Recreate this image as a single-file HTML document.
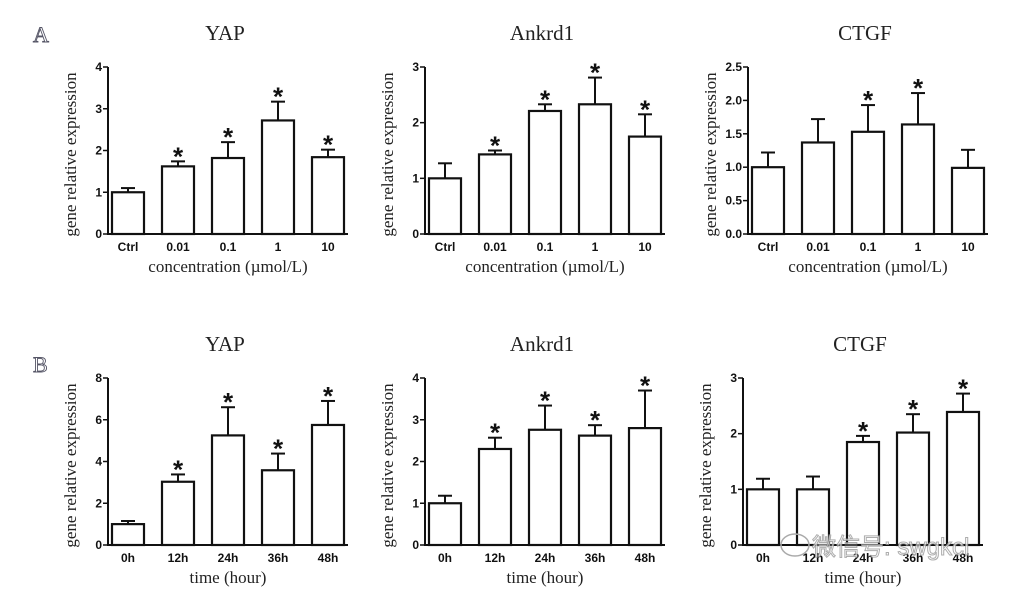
<!DOCTYPE html>
<html><head><meta charset="utf-8"><style>
body{margin:0;background:#fff;width:1020px;height:594px;overflow:hidden}
svg{display:block}
</style></head><body>
<svg id="fig" width="1020" height="594" xmlns="http://www.w3.org/2000/svg">
<text x="33" y="42" font-family="Liberation Serif, serif" font-size="22" fill="#fff" stroke="#556" stroke-width="0.9">A</text>
<text x="33" y="372" font-family="Liberation Serif, serif" font-size="22" fill="#fff" stroke="#556" stroke-width="0.9">B</text>
</svg>
<script>
const catsA = ["Ctrl","0.01","0.1","1","10"];
const catsB = ["0h","12h","24h","36h","48h"];
const yapA = [1.0,1.62,1.82,2.72,1.84];
const yapAErr = [0.1,0.12,0.38,0.45,0.18];
const yapASig = [0,1,1,1,1];
const ankA = [1.0,1.43,2.21,2.33,1.75];
const ankAErr = [0.27,0.07,0.12,0.48,0.4];
const ankASig = [0,1,1,1,1];
const ctgfA = [1.0,1.37,1.53,1.64,0.99];
const ctgfAErr = [0.22,0.35,0.4,0.47,0.27];
const ctgfASig = [0,0,1,1,0];
const yapB = [1.0,3.03,5.25,3.58,5.75];
const yapBErr = [0.15,0.35,1.35,0.8,1.15];
const yapBSig = [0,1,1,1,1];
const ankB = [1.0,2.3,2.76,2.62,2.8];
const ankBErr = [0.18,0.27,0.58,0.25,0.9];
const ankBSig = [0,1,1,1,1];
const ctgfB = [1.0,1.0,1.85,2.02,2.39];
const ctgfBErr = [0.19,0.23,0.11,0.33,0.33];
const ctgfBSig = [0,0,1,1,1];
const ticksYapA = ["0","1","2","3","4"];
const ticksAnkA = ["0","1","2","3"];
const ticksCtgfA = ["0.0","0.5","1.0","1.5","2.0","2.5"];
const ticksYapB = ["0","2","4","6","8"];
const ticksAnkB = ["0","1","2","3","4"];
const ticksCtgfB = ["0","1","2","3"];

const NS="http://www.w3.org/2000/svg";
const svg=document.getElementById('fig');
function mk(tag,attrs,parent,txt){const e=document.createElementNS(NS,tag);for(const k in attrs)e.setAttribute(k,attrs[k]);if(txt!==undefined)e.textContent=txt;(parent||svg).appendChild(e);return e;}

function panel(name,title,ax,y0,y1,ticks,cats,vals,errs,sig,xtitle){
  const g=mk('g',{});
  
  
  const ymax=parseFloat(ticks[ticks.length-1]);
  const ys=v=>y0-(v/ymax)*(y0-y1);
  const xs=i=>ax+3+i*50;
  const t=mk('text',{x:ax+117,y:y1-27,'text-anchor':'middle','font-family':'Liberation Serif, serif','font-size':21,fill:'#222'},g,title);
  
  
  const yl=mk('text',{x:0,y:0,transform:`translate(${ax-32},${(y0+y1)/2+4}) rotate(-90)`,'text-anchor':'middle','font-family':'Liberation Serif, serif','font-size':17,fill:'#222'},g,'gene relative expression');
  
  
  const xa=mk('line',{x1:ax-1,y1:y0,x2:ax+240,y2:y0,stroke:'#111','stroke-width':2},g);
  
  
  const ya=mk('line',{x1:ax,y1:y0+1,x2:ax,y2:y1,stroke:'#111','stroke-width':2},g);
  
  
  ticks.forEach(tk=>{
    const y=ys(parseFloat(tk));
    mk('line',{x1:ax-5,y1:y,x2:ax,y2:y,stroke:'#111','stroke-width':1.5},g);
    const tl=mk('text',{x:ax-6,y:y+4,'text-anchor':'end','font-family':'Liberation Sans, sans-serif','font-weight':'bold','font-size':12,fill:'#111'},g,tk);
    
    
  });
  cats.forEach((c,i)=>{
    const x=xs(i),top=ys(vals[i]),et=ys(vals[i]+errs[i]);
    const el=mk('line',{x1:x+17,y1:top,x2:x+17,y2:et,stroke:'#111','stroke-width':2},g);
    
    
    mk('line',{x1:x+10,y1:et,x2:x+24,y2:et,stroke:'#111','stroke-width':2},g);
    const b=mk('rect',{x:x+1,y:top,width:32,height:y0-top,fill:'#fff',stroke:'#111','stroke-width':2.2},g);
    
    
    if(sig[i]){
      const s=mk('text',{x:x+17,y:et+4,'text-anchor':'middle','font-family':'Liberation Sans, sans-serif','font-weight':'bold','font-size':26,fill:'#111'},g,'*');
      
      
    }
    const xl=mk('text',{x:x+17,y:y0+17,'text-anchor':'middle','font-family':'Liberation Sans, sans-serif','font-weight':'bold','font-size':12,fill:'#111'},g,c);
    
    
  });
  const xt=mk('text',{x:ax+120,y:y0+38,'text-anchor':'middle','font-family':'Liberation Serif, serif','font-size':17,fill:'#222'},g,xtitle);
  
  
}
const cx='concentration (\u00b5mol/L)', tx='time (hour)';
panel('yap-concentration-chart','YAP',108,234,67,ticksYapA,catsA,yapA,yapAErr,yapASig,cx);
panel('ankrd1-concentration-chart','Ankrd1',425,234,67,ticksAnkA,catsA,ankA,ankAErr,ankASig,cx);
panel('ctgf-concentration-chart','CTGF',748,234,67,ticksCtgfA,catsA,ctgfA,ctgfAErr,ctgfASig,cx);
panel('yap-time-chart','YAP',108,545,378,ticksYapB,catsB,yapB,yapBErr,yapBSig,tx);
panel('ankrd1-time-chart','Ankrd1',425,545,378,ticksAnkB,catsB,ankB,ankBErr,ankBSig,tx);
panel('ctgf-time-chart','CTGF',743,545,378,ticksCtgfB,catsB,ctgfB,ctgfBErr,ctgfBSig,tx);
const wm=mk('text',{x:812,y:555,'font-family':'Liberation Sans, WenQuanYi Zen Hei, sans-serif','font-size':24,fill:'#fff',stroke:'#999','stroke-width':1,opacity:0.8},svg,'微信号: swgkcl');


const wi=mk('ellipse',{cx:795,cy:545,rx:14,ry:11,fill:'none',stroke:'#aaa','stroke-width':1.5},svg);


</script>
</body></html>
